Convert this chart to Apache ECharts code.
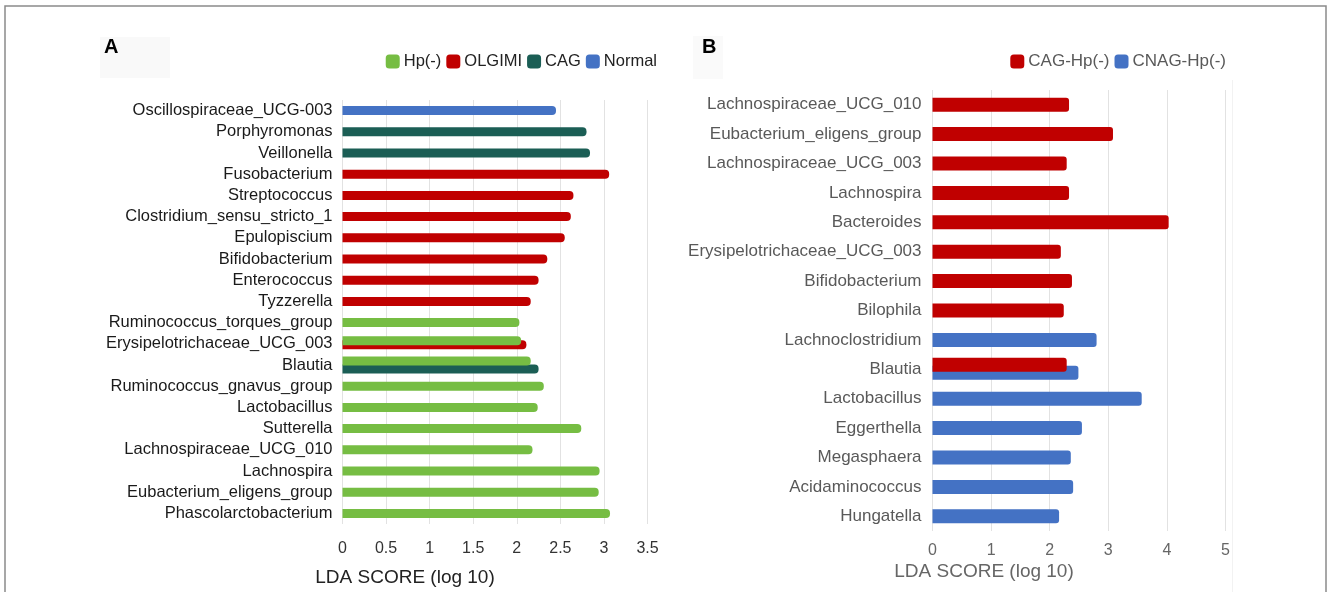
<!DOCTYPE html>
<html>
<head>
<meta charset="utf-8">
<script src="https://cdn.jsdelivr.net/npm/echarts@6/dist/echarts.min.js"></script>
<style>
  html, body { margin: 0; padding: 0; background: #ffffff; }
  #chart { width: 1328px; height: 592px; }
</style>
</head>
<body>
<div id="chart"></div>
<script>
// ---- Panel A: taxa enriched per group (LDA score, log10) ----
const categoriesA = [
  'Oscillospiraceae_UCG-003', 'Porphyromonas', 'Veillonella', 'Fusobacterium',
  'Streptococcus', 'Clostridium_sensu_stricto_1', 'Epulopiscium', 'Bifidobacterium',
  'Enterococcus', 'Tyzzerella', 'Ruminococcus_torques_group', 'Erysipelotrichaceae_UCG_003',
  'Blautia', 'Ruminococcus_gnavus_group', 'Lactobacillus', 'Sutterella',
  'Lachnospiraceae_UCG_010', 'Lachnospira', 'Eubacterium_eligens_group', 'Phascolarctobacterium'
];
const hpNegA  = [null, null, null, null, null, null, null, null, null, null, 2.03, 2.05, 2.16, 2.31, 2.24, 2.74, 2.18, 2.95, 2.94, 3.07];
const olgimiA = [null, null, null, 3.06, 2.65, 2.62, 2.55, 2.35, 2.25, 2.16, null, 2.11, null, null, null, null, null, null, null, null];
const cagA    = [null, 2.80, 2.84, null, null, null, null, null, null, null, null, null, 2.25, null, null, null, null, null, null, null];
const normalA = [2.45, null, null, null, null, null, null, null, null, null, null, null, null, null, null, null, null, null, null, null];
const ticksA  = [0, 0.5, 1, 1.5, 2, 2.5, 3, 3.5];

// ---- Panel B: CAG-Hp(-) vs CNAG-Hp(-) ----
const categoriesB = [
  'Lachnospiraceae_UCG_010', 'Eubacterium_eligens_group', 'Lachnospiraceae_UCG_003', 'Lachnospira',
  'Bacteroides', 'Erysipelotrichaceae_UCG_003', 'Bifidobacterium', 'Bilophila',
  'Lachnoclostridium', 'Blautia', 'Lactobacillus', 'Eggerthella',
  'Megasphaera', 'Acidaminococcus', 'Hungatella'
];
const cagHpB  = [2.33, 3.08, 2.29, 2.33, 4.03, 2.19, 2.38, 2.24, null, 2.29, null, null, null, null, null];
const cnagHpB = [null, null, null, null, null, null, null, null, 2.80, 2.49, 3.57, 2.55, 2.36, 2.40, 2.16];
const ticksB  = [0, 1, 2, 3, 4, 5];

// ---- styling ----
const COLORS = { green: '#76bd43', red: '#c00000', teal: '#1b5e55', blue: '#4472c4' };
const FONT = 'Liberation Sans, Arial, Helvetica, sans-serif';

// vertical nudges (px) where two groups share one taxon row
const shiftA = {
  'Hp(-)':  { 'Erysipelotrichaceae_UCG_003': -3, 'Blautia': -4 },
  'OLGIMI': { 'Erysipelotrichaceae_UCG_003': 1 },
  'CAG':    { 'Blautia': 4 },
  'Normal': {}
};
const shiftB = {
  'CAG-Hp(-)':  { 'Blautia': -4.5 },
  'CNAG-Hp(-)': { 'Blautia': 3.5 }
};

function toPairs(values) {
  const out = [];
  values.forEach((v, i) => { if (v != null) out.push([v, i]); });
  return out;
}

function barRenderer(cats, shifts, thick, radius) {
  return function (params, api) {
    const val = api.value(0);
    const idx = api.value(1);
    const p0 = api.coord([0, idx]);
    const p1 = api.coord([val, idx]);
    const dy = shifts[cats[idx]] || 0;
    return {
      type: 'rect',
      shape: { x: p0[0], y: p0[1] - thick / 2 + dy, width: p1[0] - p0[0], height: thick, r: [0, radius, radius, 0] },
      style: { fill: api.visual('color') }
    };
  };
}

function barSeries(name, values, color, gridIdx, cats, shifts, thick, radius, z) {
  return {
    name: name,
    type: 'custom',
    xAxisIndex: gridIdx,
    yAxisIndex: gridIdx,
    z: z,
    itemStyle: { color: color },
    encode: { x: 0, y: 1 },
    data: toPairs(values),
    renderItem: barRenderer(cats, shifts, thick, radius)
  };
}

const chart = echarts.init(document.getElementById('chart'), null, { renderer: 'canvas' });

const option = {
  backgroundColor: '#ffffff',
  animation: false,
  grid: [
    { left: 342.5, top: 100, width: 305, height: 424 },
    { left: 932.5, top: 90, width: 293, height: 441 }
  ],
  legend: [
    {
      data: ['Hp(-)', 'OLGIMI', 'CAG', 'Normal'],
      right: 671, top: 53, padding: 0,
      icon: 'roundRect', itemWidth: 14, itemHeight: 14, itemGap: 5,
      textStyle: { fontFamily: FONT, fontSize: 16.5, color: '#222', padding: [0, 0, 0, -1] }
    },
    {
      data: ['CAG-Hp(-)', 'CNAG-Hp(-)'],
      right: 102, top: 53, padding: 0,
      icon: 'roundRect', itemWidth: 14, itemHeight: 14, itemGap: 5,
      textStyle: { fontFamily: FONT, fontSize: 17, color: '#595959', padding: [0, 0, 0, -1] }
    }
  ],
  xAxis: [
    {
      type: 'value', gridIndex: 0,
      min: ticksA[0], max: ticksA[ticksA.length - 1], interval: ticksA[1] - ticksA[0],
      axisLine: { show: false }, axisTick: { show: false },
      splitLine: { show: true, lineStyle: { color: '#e2e2e2', width: 1 } },
      axisLabel: { fontFamily: FONT, fontSize: 16, color: '#333', margin: 17 }
    },
    {
      type: 'value', gridIndex: 1,
      min: ticksB[0], max: ticksB[ticksB.length - 1], interval: ticksB[1] - ticksB[0],
      axisLine: { show: false }, axisTick: { show: false },
      splitLine: { show: true, lineStyle: { color: '#e2e2e2', width: 1 } },
      axisLabel: { fontFamily: FONT, fontSize: 16, color: '#666', margin: 12 }
    }
  ],
  yAxis: [
    {
      type: 'category', gridIndex: 0, data: categoriesA, inverse: true,
      axisLine: { show: false }, axisTick: { show: false }, splitLine: { show: false },
      axisLabel: { interval: 0, fontFamily: FONT, fontSize: 16.5, color: '#1a1a1a', margin: 10 }
    },
    {
      type: 'category', gridIndex: 1, data: categoriesB, inverse: true,
      axisLine: { show: false }, axisTick: { show: false }, splitLine: { show: false },
      axisLabel: { interval: 0, fontFamily: FONT, fontSize: 17, color: '#595959', margin: 11 }
    }
  ],
  series: [
    barSeries('Normal', normalA, COLORS.blue, 0, categoriesA, shiftA['Normal'], 9, 4, 2),
    barSeries('CAG', cagA, COLORS.teal, 0, categoriesA, shiftA['CAG'], 9, 4, 2),
    barSeries('OLGIMI', olgimiA, COLORS.red, 0, categoriesA, shiftA['OLGIMI'], 9, 4, 2),
    barSeries('Hp(-)', hpNegA, COLORS.green, 0, categoriesA, shiftA['Hp(-)'], 9, 4, 3),
    barSeries('CNAG-Hp(-)', cnagHpB, COLORS.blue, 1, categoriesB, shiftB['CNAG-Hp(-)'], 14, 3, 2),
    barSeries('CAG-Hp(-)', cagHpB, COLORS.red, 1, categoriesB, shiftB['CAG-Hp(-)'], 14, 3, 3)
  ],
  graphic: [
    // outer frame
    { type: 'polyline', silent: true, z: 10,
      shape: { points: [[5, 592], [5, 6], [1326, 6], [1326, 592]] },
      style: { stroke: '#8a8a8a', lineWidth: 1.5, fill: null } },
    // panel letter backdrops
    { type: 'rect', silent: true, z: 0, shape: { x: 100, y: 37, width: 70, height: 41 }, style: { fill: '#f9f9f9' } },
    { type: 'rect', silent: true, z: 0, shape: { x: 693, y: 36, width: 30, height: 43 }, style: { fill: '#fafafa' } },
    // panel letters
    { type: 'text', silent: true, z: 5, left: 104, top: 37,
      style: { text: 'A', fontFamily: FONT, fontWeight: 'bold', fontSize: 20, fill: '#000' } },
    { type: 'text', silent: true, z: 5, left: 702, top: 37,
      style: { text: 'B', fontFamily: FONT, fontWeight: 'bold', fontSize: 20, fill: '#000' } },
    // axis titles
    { type: 'text', silent: true, z: 5, x: 405, y: 578,
      style: { text: 'LDA SCORE (log 10)', fontFamily: FONT, fontSize: 19, fill: '#222', align: 'center', verticalAlign: 'middle' } },
    { type: 'text', silent: true, z: 5, x: 984, y: 572,
      style: { text: 'LDA SCORE (log 10)', fontFamily: FONT, fontSize: 19, fill: '#666', align: 'center', verticalAlign: 'middle' } },
    // edge of panel B plot area
    { type: 'line', silent: true, z: 1, shape: { x1: 1232.5, y1: 80, x2: 1232.5, y2: 592 },
      style: { stroke: '#f2f2f2', lineWidth: 1 } }
  ]
};

chart.setOption(option);
</script>
</body>
</html>
